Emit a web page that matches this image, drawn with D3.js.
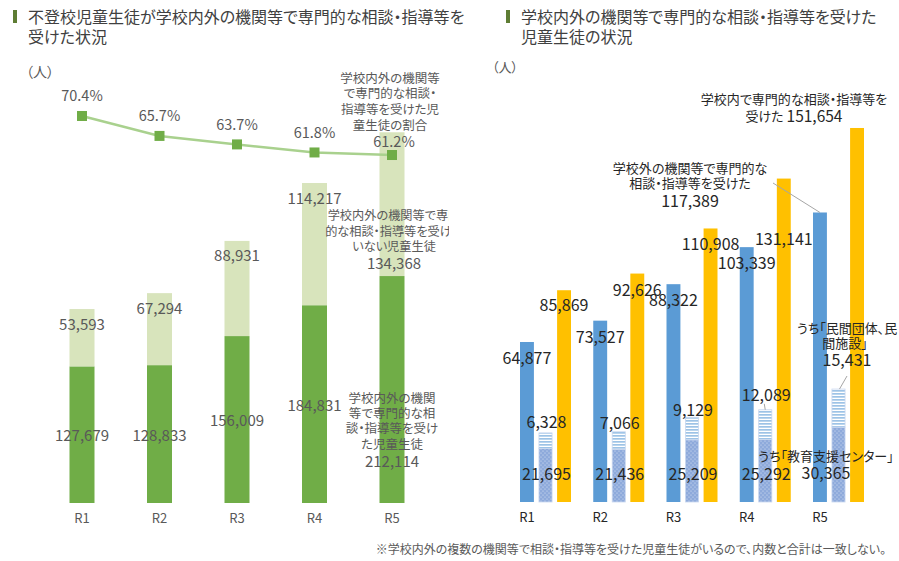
<!DOCTYPE html>
<html><head><meta charset="utf-8">
<script src="https://cdn.jsdelivr.net/npm/d3@7"></script>
<style>
html,body{margin:0;padding:0;background:#fff;}
svg{display:block;font-family:"Noto Sans CJK JP","Noto Sans",sans-serif;font-feature-settings:"palt" 1;}
</style></head>
<body>
<svg id="chart" width="899" height="561"></svg>
<script>
// ---------- data ----------
const years = ['R1','R2','R3','R4','R5'];
// left chart
const received    = [127679,128833,156009,184831,212114];
const notReceived = [53593,67294,88931,114217,134368];
const ratio       = [70.4,65.7,63.7,61.8,61.2];
// right chart
const outsideSchool = [64877,73527,88322,103339,117389];
const supportCenter = [21695,21436,25209,25292,30365];
const privateOrg    = [6328,7066,9129,12089,15431];
const insideSchool  = [85869,92626,110908,131141,151654];
// texts
const titleLeft  = ['不登校児童生徒が学校内外の機関等で専門的な相談・指導等を','受けた状況'];
const titleRight = ['学校内外の機関等で専門的な相談・指導等を受けた','児童生徒の状況'];
const unitLabel = '（人）';
const ratioName = ['学校内外の機関等','で専門的な相談・','指導等を受けた児','童生徒の割合'];
const notRecName = ['学校内外の機関等で専門','的な相談・指導等を受けて','いない児童生徒'];
const recName = ['学校内外の機関','等で専門的な相','談・指導等を受け','た児童生徒'];
const outsideName = ['学校外の機関等で専門的な','相談・指導等を受けた'];
const insideName = ['学校内で専門的な相談・指導等を','受けた'];
const privateName = ['うち「民間団体、民','間施設」'];
const centerName = 'うち「教育支援センター」';
const footnote = '※学校内外の複数の機関等で相談・指導等を受けた児童生徒がいるので、内数と合計は一致しない。';

const fmt = d3.format(',');
const svg = d3.select('#chart');
const GRAY = '#595959', DARK = '#262626';

// ---------- titles ----------
function title(x, lines){
  svg.append('rect').attr('x', x).attr('y', 10).attr('width', 4).attr('height', 13).attr('fill', '#5e7d34');
  lines.forEach((t,i)=> svg.append('text').attr('x', x+15).attr('y', 23 + i*20)
    .attr('font-size', 16).attr('fill', '#404040').text(t));
}
title(13, titleLeft);
title(506, titleRight);

// ---------- LEFT CHART ----------
const xL = d3.scalePoint().domain(years).range([82, 392]);
const yL = d3.scaleLinear().domain([0, 350000]).range([503, 128.5]);
const yP = d3.scaleLinear().domain([60, 72]).range([160.1, 109.2]);
const bwL = 25;
const L = svg.append('g');

L.append('text').attr('x', 26).attr('y', 77).attr('font-size', 14).attr('fill', GRAY).text(unitLabel);

L.selectAll('rect.rec').data(years).join('rect')
  .attr('x', (d)=>xL(d)-bwL/2).attr('width', bwL)
  .attr('y', (d,i)=>yL(received[i])).attr('height', (d,i)=>yL(0)-yL(received[i]))
  .attr('fill', '#70ad47');
L.selectAll('rect.nrec').data(years).join('rect')
  .attr('x', (d)=>xL(d)-bwL/2).attr('width', bwL)
  .attr('y', (d,i)=>yL(received[i]+notReceived[i])).attr('height', (d,i)=>yL(received[i])-yL(received[i]+notReceived[i]))
  .attr('fill', '#d8e4bc');

// line
const line = d3.line().x((d,i)=>xL(years[i])).y(d=>yP(d));
L.append('path').datum(ratio).attr('d', line).attr('fill','none').attr('stroke','#a9d18e').attr('stroke-width',2.5);
L.selectAll('rect.mk').data(ratio).join('rect')
  .attr('x', (d,i)=>xL(years[i])-5).attr('y', d=>yP(d)-5).attr('width',10).attr('height',10)
  .attr('fill','#70ad47');

const tL = (x,y,t,size=15)=> L.append('text').attr('x',x).attr('y',y).attr('text-anchor','middle')
  .attr('dominant-baseline','central').attr('font-size',size).attr('fill',GRAY).text(t);

years.forEach((yr,i)=>{
  const cx = xL(yr);
  tL(cx, 517, yr, 13);
  if(i<4){
    tL(cx, yP(ratio[i])-21, ratio[i].toFixed(1)+'%', 14.5);
    tL(cx, yL(received[i]+notReceived[i])+14, fmt(notReceived[i]));
    tL(cx, (yL(received[i])+yL(0))/2, fmt(received[i]));
  }
});
// R5 callouts
const c5 = xL('R5');
ratioName.forEach((t,k)=> tL(c5-2, 77+k*15.7, t, 12.5));
tL(c5+2, yP(ratio[4])-15, ratio[4].toFixed(1)+'%', 14.5);
svg.append('clipPath').attr('id','lclip').append('rect').attr('x',0).attr('y',0).attr('width',449).attr('height',561);
const gClip = L.append('g').attr('clip-path','url(#lclip)');
notRecName.forEach((t,k)=> gClip.append('text').attr('x',c5+2).attr('y',215+k*15.6).attr('text-anchor','middle')
  .attr('dominant-baseline','central').attr('font-size',12.2).attr('fill',GRAY).text(t));
tL(c5+2, 262, fmt(notReceived[4]));
recName.forEach((t,k)=> tL(c5, 397+k*15.4, t, 12.5));
tL(c5, 460, fmt(received[4]));

// ---------- RIGHT CHART ----------
const x0 = d3.scalePoint().domain(years).range([520, 813]);
const x1 = d3.scaleBand().domain(['out','sub','in']).range([0, 51]).paddingInner(0.25);
const bw = x1.bandwidth();
const yR = d3.scaleLinear().domain([0, 160000]).range([502, 107.4]);
const R = svg.append('g');

const defs = svg.append('defs');
const ps = defs.append('pattern').attr('id','stripes').attr('patternUnits','userSpaceOnUse').attr('width',4).attr('height',3);
ps.append('rect').attr('width',4).attr('height',3).attr('fill','#ffffff');
ps.append('rect').attr('width',4).attr('height',1.7).attr('fill','#9dc3e6');
const pd = defs.append('pattern').attr('id','dots').attr('patternUnits','userSpaceOnUse').attr('width',4).attr('height',4);
pd.append('rect').attr('width',4).attr('height',4).attr('fill','#8eaadb');
pd.append('circle').attr('cx',1).attr('cy',1).attr('r',0.6).attr('fill','#dfe7f6');
pd.append('circle').attr('cx',3).attr('cy',3).attr('r',0.6).attr('fill','#dfe7f6');

R.append('text').attr('x', 492).attr('y', 72).attr('font-size', 13).attr('fill', GRAY).text(unitLabel);

R.selectAll('rect.out').data(years).join('rect')
  .attr('x', d=>x0(d)+x1('out')).attr('width', bw)
  .attr('y', (d,i)=>yR(outsideSchool[i])).attr('height', (d,i)=>yR(0)-yR(outsideSchool[i]))
  .attr('fill', '#5b9bd5');
R.selectAll('rect.in').data(years).join('rect')
  .attr('x', d=>x0(d)+x1('in')).attr('width', bw)
  .attr('y', (d,i)=>yR(insideSchool[i])).attr('height', (d,i)=>yR(0)-yR(insideSchool[i]))
  .attr('fill', '#ffc000');
R.selectAll('rect.center').data(years).join('rect')
  .attr('x', d=>x0(d)+x1('sub')+0.4).attr('width', bw-0.8)
  .attr('y', (d,i)=>yR(supportCenter[i])).attr('height', (d,i)=>yR(0)-yR(supportCenter[i]))
  .attr('fill', 'url(#dots)').attr('stroke','#c9d7ef').attr('stroke-width',0.8);
R.selectAll('rect.priv').data(years).join('rect')
  .attr('x', d=>x0(d)+x1('sub')+0.4).attr('width', bw-0.8)
  .attr('y', (d,i)=>yR(supportCenter[i]+privateOrg[i])).attr('height', (d,i)=>yR(supportCenter[i])-yR(supportCenter[i]+privateOrg[i]))
  .attr('fill', 'url(#stripes)').attr('stroke','#c9d7ef').attr('stroke-width',0.8);

const tR = (x,y,t,size=16)=> R.append('text').attr('x',x).attr('y',y).attr('text-anchor','middle')
  .attr('dominant-baseline','central').attr('font-size',size).attr('fill',DARK).text(t);
const leader = (xa,ya,xb,yb)=> R.append('line').attr('x1',xa).attr('y1',ya).attr('x2',xb).attr('y2',yb)
  .attr('stroke','#a6a6a6').attr('stroke-width',1);

const yellowOffset = [14, 15, 15, 59];
const stripeOffset = [-12, -10, -8, -16];
years.forEach((yr,i)=>{
  const cOut = x0(yr)+x1('out')+bw/2, cSub = x0(yr)+x1('sub')+bw/2, cIn = x0(yr)+x1('in')+bw/2;
  tR(cOut, 516, yr, 13);
  if(i<4){
    tR(cOut, yR(outsideSchool[i])+15, fmt(outsideSchool[i]));
    tR(cIn, yR(insideSchool[i])+yellowOffset[i], fmt(insideSchool[i]));
    tR(cSub+1, yR(supportCenter[i]+privateOrg[i])+stripeOffset[i], fmt(privateOrg[i]));
    tR(cSub+1, yR(0)-29, fmt(supportCenter[i]));
  }
});
// R4 stripe leader
{
  const c = x0('R4')+x1('sub')+bw/2, top = yR(supportCenter[3]+privateOrg[3]);
  leader(c-1, top-6, c, top);
}
// R5 callouts
{
  const cOut = x0('R5')+x1('out')+bw/2, cSub = x0('R5')+x1('sub')+bw/2;
  outsideName.forEach((t,k)=> tR(690, 167+k*15.5, t, 13));
  tR(690, 199.5, fmt(outsideSchool[4]));
  leader(773, 183, cOut, yR(outsideSchool[4]));
  tR(794, 98, insideName[0], 13);
  R.append('text').attr('x',794).attr('y',115).attr('text-anchor','middle').attr('dominant-baseline','central')
    .attr('fill',DARK).call(t=>{
      t.append('tspan').attr('font-size',13).text(insideName[1]+'  ');
      t.append('tspan').attr('font-size',15.5).text(fmt(insideSchool[4]));
    });
  privateName.forEach((t,k)=> tR(k==0?847:845, 327+k*15.5, t, 13));
  tR(847, 359, fmt(privateOrg[4]));
  leader(847, 376, cSub+1, yR(supportCenter[4]+privateOrg[4]));
  tR(826, 455, centerName, 13);
  tR(826, 472, fmt(supportCenter[4]));
}

// footnote
svg.append('text').attr('x', 886).attr('y', 548).attr('text-anchor','end').attr('dominant-baseline','central')
  .attr('font-size', 12).attr('fill', GRAY).text(footnote);
</script>
</body></html>
